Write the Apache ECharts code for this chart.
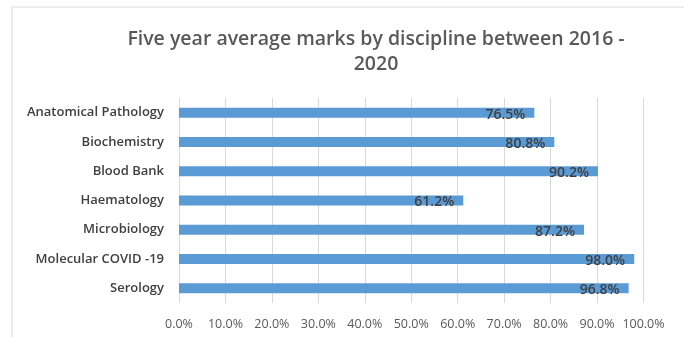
<!DOCTYPE html>
<html>
<head>
<meta charset="utf-8">
<script src="https://cdn.jsdelivr.net/npm/echarts@6/dist/echarts.min.js"></script>
<style>
  html, body { margin: 0; padding: 0; background: #fff; }
  #chart { width: 684px; height: 337px; }
</style>
</head>
<body>
<div id="chart"></div>
<script>
// categories top to bottom as in the picture
const disciplines = ['Anatomical Pathology', 'Biochemistry', 'Blood Bank', 'Haematology', 'Microbiology', 'Molecular COVID -19', 'Serology'];
const avgMarks = [76.5, 80.8, 90.2, 61.2, 87.2, 98.0, 96.8];
const xTicks = [0, 10, 20, 30, 40, 50, 60, 70, 80, 90, 100];

const chart = echarts.init(document.getElementById('chart'));
const font = "'Open Sans', 'Noto Sans', sans-serif";

chart.setOption({
    animation: false,
    textStyle: { fontFamily: font },
    title: {
        text: 'Five year average marks by discipline between 2016 -\n2020',
        left: 371,
        textAlign: 'center',
        top: 22,
        textStyle: { fontSize: 19.5, fontWeight: 600, color: '#595959', lineHeight: 25, fontFamily: font }
    },
    graphic: [{
        type: 'rect',
        shape: { x: 12, y: 7, width: 700, height: 360 },
        style: { fill: 'none', stroke: '#d9d9d9', lineWidth: 1 },
        silent: true
    }],
    grid: { left: 179, right: 40.5, top: 98, bottom: 34 },
    xAxis: {
        type: 'value',
        min: xTicks[0],
        max: xTicks[xTicks.length - 1],
        interval: 10,
        axisLine: { show: false },
        axisTick: { show: false },
        splitLine: { lineStyle: { color: '#d9d9d9', width: 1 } },
        axisLabel: {
            color: '#595959',
            fontSize: 12.5,
            margin: 15,
            formatter: v => v.toFixed(1) + '%'
        }
    },
    yAxis: {
        type: 'category',
        inverse: true,
        data: disciplines,
        axisLine: { show: false },
        axisTick: { show: false },
        axisLabel: { color: '#404040', fontSize: 13, fontWeight: 600, margin: 15 }
    },
    series: [{
        type: 'bar',
        data: avgMarks,
        barWidth: 10,
        itemStyle: { color: '#5b9bd5' },
        label: {
            show: true,
            position: 'insideRight',
            offset: [0, 2],
            distance: 9,
            color: '#404040',
            fontSize: 14,
            fontWeight: 600,
            formatter: p => p.value.toFixed(1) + '%'
        }
    }]
});
</script>
</body>
</html>
